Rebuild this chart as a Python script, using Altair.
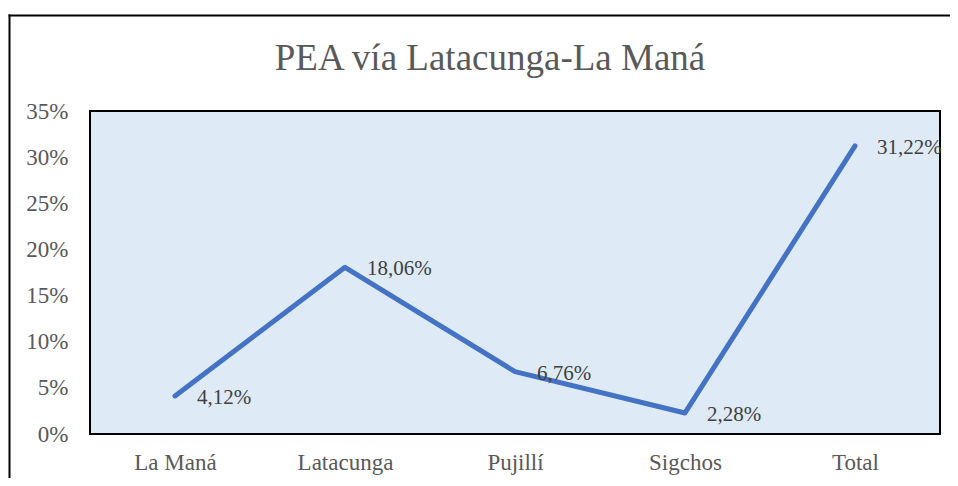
import altair as alt
import pandas as pd

categories = ["La Maná", "Latacunga", "Pujillí", "Sigchos", "Total"]
values = [4.12, 18.06, 6.76, 2.28, 31.22]
y_ticks = [0, 0.05, 0.10, 0.15, 0.20, 0.25, 0.30, 0.35]
title_text = "PEA vía Latacunga-La Maná"

df = pd.DataFrame({
    "cat": categories,
    "val": [v / 100 for v in values],
    "label": [f"{v:.2f}".replace(".", ",") + "%" for v in values],
})

FONT = "Liberation Serif"

x_enc = alt.X("cat:N", sort=categories, title=None,
              scale=alt.Scale(type="point", padding=0.5),
              axis=alt.Axis(labelAngle=0, labelFontSize=23, labelColor="#595959",
                            labelFont=FONT, ticks=False, domain=False, labelPadding=17))
y_enc = alt.Y("val:Q", title=None,
              scale=alt.Scale(domain=[0, 0.35], nice=False, zero=True),
              axis=alt.Axis(values=y_ticks, format=".0%", labelFontSize=23,
                            labelColor="#595959", labelFont=FONT, ticks=False,
                            domain=False, grid=False, labelPadding=22))

base = alt.Chart(df)

line = base.mark_line(color="#4472C4", strokeWidth=5, strokeCap="round",
                      strokeJoin="round").encode(x=x_enc, y=y_enc)

labels = base.mark_text(align="left", baseline="middle", dx=22, dy=2,
                        fontSize=21, font=FONT, color="#404040").encode(
    x=alt.X("cat:N", sort=categories), y="val:Q", text="label:N")

one = pd.DataFrame({"t": [title_text]})

frame_top = alt.Chart(one).mark_rule(color="black", strokeWidth=2).encode(
    x=alt.value(-81.5), x2=alt.value(860), y=alt.value(-95.5))
frame_left = alt.Chart(one).mark_rect(color="black").encode(
    x=alt.value(-81.5), x2=alt.value(-79.5), y=alt.value(-96.5), y2=alt.value(367))

title = alt.Chart(one).mark_text(
    align="center", baseline="alphabetic", fontSize=37, font=FONT,
    color="#595959").encode(x=alt.value(400), y=alt.value(-41), text="t:N")

chart = alt.layer(line, labels, frame_top, frame_left, title).properties(
    width=850, height=323,
    padding={"left": 82, "top": 103, "right": 10, "bottom": 44},
    autosize=alt.AutoSizeParams(type="none"),
).configure(
    background="white"
).configure_view(
    fill="#DEEBF7", stroke="black", strokeWidth=2
)

chart.save("out.html", embed_options={"renderer": "svg", "actions": False})
